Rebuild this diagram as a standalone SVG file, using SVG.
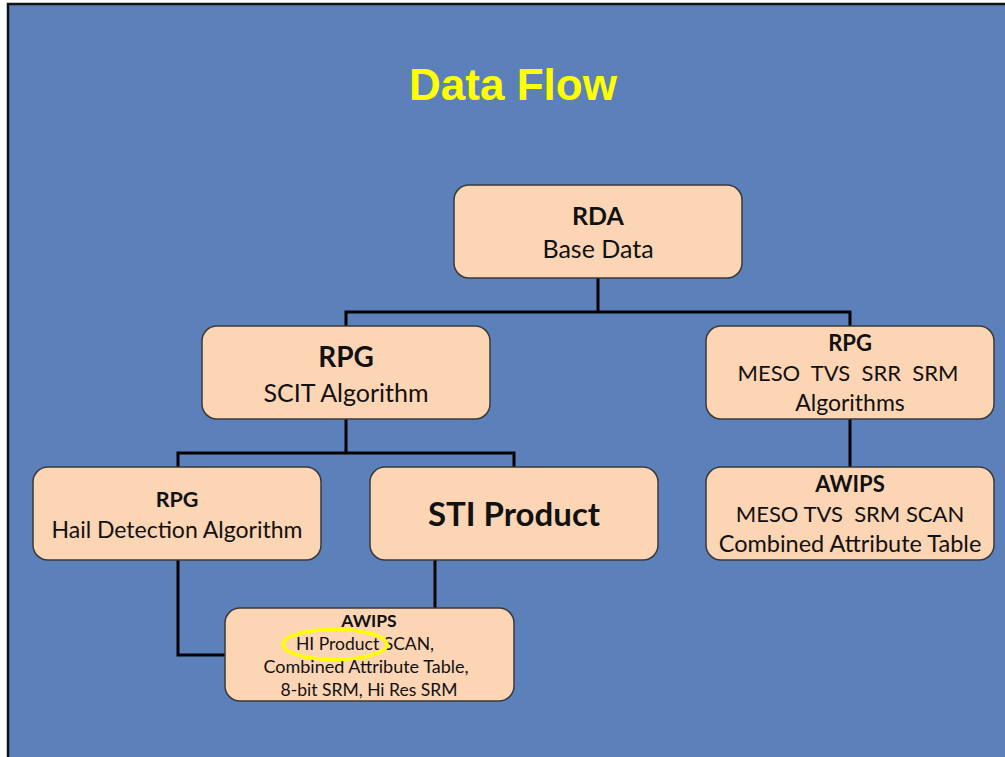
<svg xmlns="http://www.w3.org/2000/svg" width="1005" height="757" viewBox="0 0 1005 757">
<style>
.box{fill:#fcd5b5;stroke:#3a3a3a;stroke-width:1.5}
.t{font-family:Lato,"Open Sans",sans-serif;fill:#111;text-anchor:middle}
.b{font-weight:bold}
.c{fill:none;stroke:#000;stroke-width:3}
</style>
<rect x="0" y="0" width="1005" height="757" fill="#ffffff"/>
<rect x="8" y="4" width="1000" height="760" fill="#5b80ba" stroke="#111" stroke-width="2.5"/>
<text x="513" y="100" font-family="Liberation Sans,Arial,sans-serif" font-weight="bold" font-size="44" fill="#ffff00" text-anchor="middle">Data Flow</text>
<g id="connectors">
<polyline class="c" points="598,278 598,312"/>
<polyline class="c" points="346,326 346,312 850,312 850,326"/>
<polyline class="c" points="346,419 346,453"/>
<polyline class="c" points="178,467 178,453 514,453 514,467"/>
<polyline class="c" points="850,419 850,467"/>
<polyline class="c" points="178,560 178,655 225,655"/>
<polyline class="c" points="435,560 435,608"/>
</g>
<g id="rda">
<rect class="box" x="454" y="185" width="288" height="93" rx="15"/>
<text class="t b" x="598" y="225" font-size="25">RDA</text>
<text class="t" x="598" y="258" font-size="25">Base Data</text>
</g>
<g id="rpg-scit">
<rect class="box" x="202" y="326" width="288" height="93" rx="15"/>
<text class="t b" x="346" y="367" font-size="28">RPG</text>
<text class="t" x="346" y="402" font-size="25">SCIT Algorithm</text>
</g>
<g id="rpg-meso">
<rect class="box" x="706" y="326" width="288" height="93" rx="15"/>
<text class="t b" x="850" y="351" font-size="22">RPG</text>
<text class="t" x="848" y="381" font-size="22" xml:space="preserve">MESO  TVS  SRR  SRM</text>
<text class="t" x="850" y="411" font-size="23">Algorithms</text>
</g>
<g id="rpg-hail">
<rect class="box" x="33" y="467" width="288" height="93" rx="15"/>
<text class="t b" x="177" y="507" font-size="21.5">RPG</text>
<text class="t" x="177" y="538" font-size="23">Hail Detection Algorithm</text>
</g>
<g id="sti">
<rect class="box" x="370" y="467" width="288" height="93" rx="15"/>
<text class="t b" x="514" y="526" font-size="33">STI Product</text>
</g>
<g id="awips-right">
<rect class="box" x="706" y="467" width="288" height="93" rx="15"/>
<text class="t b" x="850" y="492" font-size="22">AWIPS</text>
<text class="t" x="850" y="522" font-size="22" xml:space="preserve">MESO TVS  SRM SCAN</text>
<text class="t" x="850" y="552" font-size="23.5">Combined Attribute Table</text>
</g>
<g id="awips-bottom">
<rect class="box" x="225" y="608" width="289" height="93" rx="15"/>
<text class="t b" x="369" y="627" font-size="17.5">AWIPS</text>
<text class="t" x="365" y="650" font-size="17.5">HI Product SCAN,</text>
<text class="t" x="366" y="673" font-size="18">Combined Attribute Table,</text>
<text class="t" x="369" y="696" font-size="17.5">8-bit SRM, Hi Res SRM</text>
<ellipse cx="335" cy="644.5" rx="52" ry="15" fill="none" stroke="#ffff00" stroke-width="3.5"/>
</g>
</svg>
